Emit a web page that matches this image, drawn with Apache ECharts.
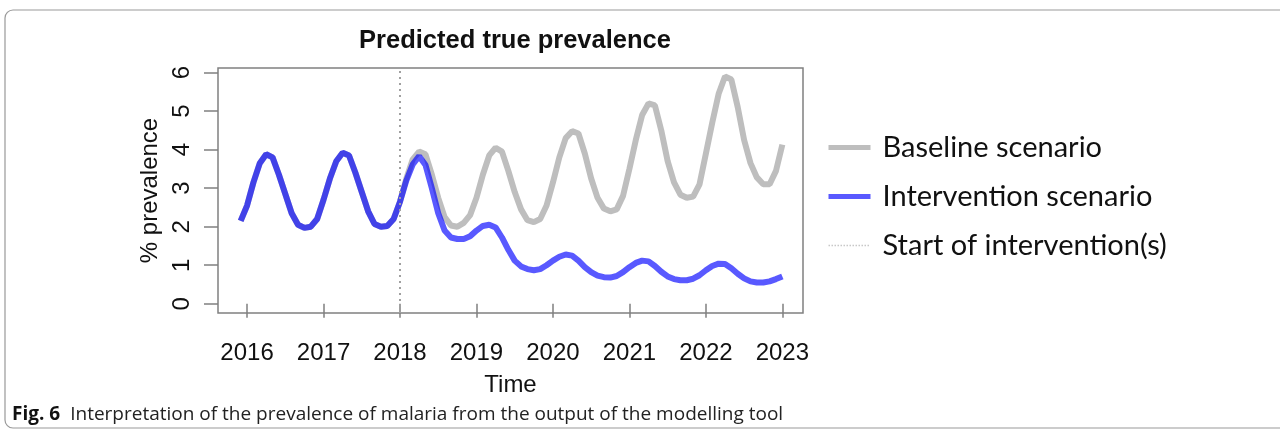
<!DOCTYPE html>
<html>
<head>
<meta charset="utf-8">
<script src="https://cdn.jsdelivr.net/npm/echarts@6/dist/echarts.min.js"></script>
<style>
  html, body { margin: 0; padding: 0; background: #fff; }
  #chart { width: 1280px; height: 430px; }
</style>
</head>
<body>
<div id="chart"></div>
<script>
// monthly model output, Dec 2015 .. Jan 2023
const startYear = 2015;
const startMonth = 12;
const interventionStart = 2018;
const yearTicks = [2016, 2017, 2018, 2019, 2020, 2021, 2022, 2023];
const prevTicks = [0, 1, 2, 3, 4, 5, 6];

// Dec 2015 - Dec 2017, both scenarios identical before the intervention
const preIntervention = [2.15, 2.55, 3.15, 3.65, 3.88, 3.8, 3.35, 2.85, 2.35, 2.05, 1.97, 2.0,
  2.2, 2.7, 3.25, 3.7, 3.92, 3.85, 3.4, 2.9, 2.4, 2.07, 2.0, 2.02, 2.2];

// Jan 2018 - Jan 2023
const baselineAfter = [2.65, 3.25, 3.75, 3.95, 3.88, 3.35, 2.75, 2.25, 2.03, 2.0, 2.1, 2.3,
  2.75, 3.35, 3.85, 4.05, 3.95, 3.45, 2.9, 2.45, 2.17, 2.12, 2.2, 2.55,
  3.15, 3.8, 4.3, 4.48, 4.42, 3.9, 3.25, 2.75, 2.47, 2.4, 2.45, 2.8,
  3.5, 4.25, 4.9, 5.2, 5.15, 4.5, 3.7, 3.15, 2.83, 2.75, 2.78, 3.1,
  3.9, 4.7, 5.45, 5.9, 5.82, 5.1, 4.25, 3.65, 3.28, 3.1, 3.1, 3.45,
  4.13];
const interventionAfter = [2.65, 3.2, 3.62, 3.83, 3.6, 3.0, 2.35, 1.9, 1.72, 1.68, 1.68, 1.75,
  1.9, 2.02, 2.05, 1.98, 1.72, 1.4, 1.12, 0.97, 0.9, 0.87, 0.9, 1.0,
  1.12, 1.22, 1.28, 1.25, 1.12, 0.95, 0.82, 0.73, 0.69, 0.68, 0.72, 0.82,
  0.95, 1.06, 1.12, 1.1, 0.98, 0.83, 0.71, 0.64, 0.61, 0.61, 0.65, 0.74,
  0.87, 0.98, 1.04, 1.03, 0.92, 0.78, 0.66, 0.58, 0.55, 0.55, 0.58, 0.64,
  0.71];

const baseline = preIntervention.concat(baselineAfter);
const intervention = preIntervention.concat(interventionAfter);

function withTime(values) {
  return values.map((v, i) => [startYear + (startMonth - 1 + i) / 12, v]);
}

const axisFont = 'Liberation Sans, Arial, sans-serif';
const boxColor = '#808080';
const grey = '#bebebe';
const blue = 'rgba(0,0,255,0.65)';

const chart = echarts.init(document.getElementById('chart'));
const option = {
  animation: false,
  backgroundColor: '#fff',
  title: [
    {
      text: 'Predicted true prevalence',
      left: 510,
      top: 23,
      textAlign: 'center',
      textStyle: { fontFamily: axisFont, fontSize: 25.5, fontWeight: 'bold', color: '#111' }
    },
    {
      text: '{b|Fig. 6}  {n|Interpretation of the prevalence of malaria from the output of the modelling tool}',
      left: 7,
      top: 400,
      textStyle: {
        rich: {
          b: { fontFamily: 'Open Sans', fontSize: 19, fontWeight: 'bold', color: '#111' },
          n: { fontFamily: 'Open Sans', fontSize: 19, fontWeight: 'normal', color: '#222' }
        }
      }
    }
  ],
  graphic: [
    {
      type: 'rect',
      shape: { x: 5, y: 10, width: 1300, height: 418, r: 8 },
      style: { fill: 'none', stroke: '#999', lineWidth: 1.2 },
      silent: true
    }
  ],
  legend: {
    orient: 'vertical',
    left: 821,
    top: 128,
    itemWidth: 42,
    itemHeight: 6,
    itemGap: 20,
    itemStyle: { opacity: 0 },
    lineStyle: { width: 5 },
    textStyle: { fontFamily: 'Lato', fontSize: 29, color: '#111', padding: [0, 0, 0, 7] },
    data: [
      'Baseline scenario',
      'Intervention scenario',
      { name: 'Start of intervention(s)', lineStyle: { width: 1.5, color: '#c8c8c8' } }
    ]
  },
  grid: {
    left: 218, right: 477, top: 68, bottom: 117,
    show: true, borderColor: boxColor, borderWidth: 1.5
  },
  xAxis: {
    type: 'value',
    min: 2015.62,
    max: 2023.27,
    name: 'Time',
    nameLocation: 'middle',
    nameGap: 60,
    nameTextStyle: { fontFamily: axisFont, fontSize: 24, color: '#111' },
    axisLine: { show: false },
    splitLine: { show: false },
    axisTick: { show: true, length: 14, lineStyle: { color: boxColor, width: 1.5 }, customValues: yearTicks },
    axisLabel: {
      customValues: yearTicks, margin: 28, fontFamily: axisFont, fontSize: 24, color: '#111',
      formatter: v => String(v)
    }
  },
  yAxis: {
    type: 'value',
    min: -0.24,
    max: 6.12,
    name: '% prevalence',
    nameLocation: 'middle',
    nameGap: 56,
    nameTextStyle: { fontFamily: axisFont, fontSize: 24, color: '#111' },
    axisLine: { show: false },
    splitLine: { show: false },
    axisTick: { show: true, length: 14, lineStyle: { color: boxColor, width: 1.5 }, customValues: prevTicks },
    axisLabel: {
      customValues: prevTicks, rotate: 90, margin: 24, fontFamily: axisFont, fontSize: 24, color: '#111',
      formatter: v => String(v)
    }
  },
  series: [
    {
      name: 'Start of intervention(s)',
      type: 'line',
      data: [],
      symbol: 'none',
      lineStyle: { color: '#b0b0b0', width: 1.5, type: 'dotted' },
      itemStyle: { color: '#b0b0b0' },
      markLine: {
        silent: true,
        symbol: 'none',
        label: { show: false },
        lineStyle: { color: '#a0a0a0', width: 2, type: [2, 4] },
        data: [{ xAxis: interventionStart }]
      }
    },
    {
      name: 'Baseline scenario',
      type: 'line',
      data: withTime(baseline),
      symbol: 'none',
      lineStyle: { color: grey, width: 6 },
      itemStyle: { color: grey }
    },
    {
      name: 'Intervention scenario',
      type: 'line',
      data: withTime(intervention),
      symbol: 'none',
      lineStyle: { color: blue, width: 6 },
      itemStyle: { color: blue }
    }
  ]
};
chart.setOption(option);
</script>
</body>
</html>
